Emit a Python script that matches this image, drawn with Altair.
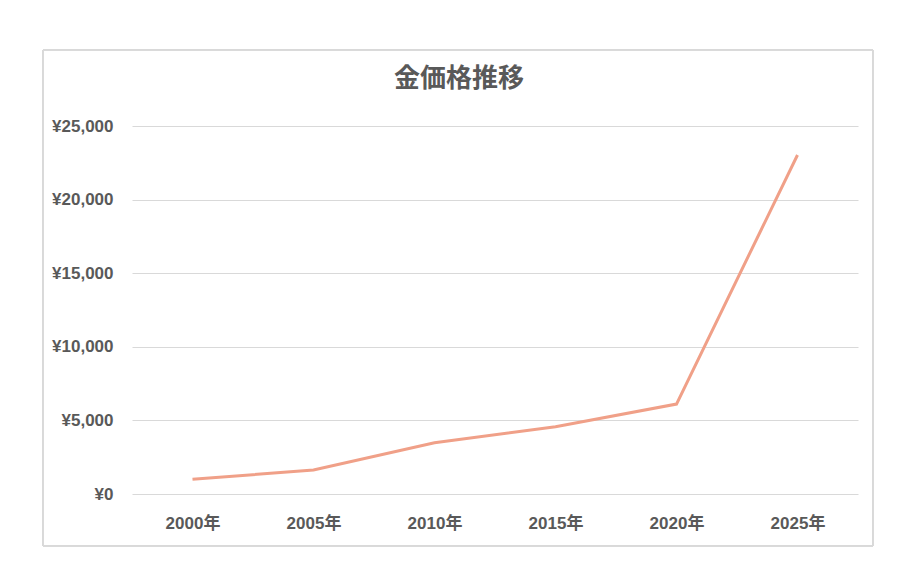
import altair as alt
import pandas as pd

years = ["2000年", "2005年", "2010年", "2015年", "2020年", "2025年"]
prices = [1000, 1630, 3480, 4570, 6110, 23030]
y_ticks = [0, 5000, 10000, 15000, 20000, 25000]
title_text = "金価格推移"

df = pd.DataFrame({"year": years, "price": prices})

LABEL_FONT = "'Liberation Sans', Arial, 'Noto Sans CJK JP', sans-serif"
TITLE_FONT = "'Noto Sans CJK JP', sans-serif"
GRAY = "#595959"

frame = alt.Chart(df).mark_rect(fillOpacity=0, stroke="#d9d9d9", strokeWidth=1).encode(
    x=alt.value(-89), x2=alt.value(741), y=alt.value(-76), y2=alt.value(420)
)

line = alt.Chart(df).mark_line(color="#F0A088", strokeWidth=3).encode(
    x=alt.X("year:O", sort=years, title=None,
            axis=alt.Axis(labelAngle=0, labelPadding=21, grid=False, domain=False, ticks=False,
                          labelFont=LABEL_FONT, labelFontSize=17, labelFontWeight="bold", labelColor=GRAY)),
    y=alt.Y("price:Q", title=None, scale=alt.Scale(domain=[0, 25000], nice=False),
            axis=alt.Axis(values=y_ticks, labelExpr="'¥' + format(datum.value, ',')",
                          labelPadding=19, domain=False, ticks=False, gridColor="#d9d9d9",
                          labelFont=LABEL_FONT, labelFontSize=17, labelFontWeight="bold", labelColor=GRAY)),
)

chart = alt.layer(frame, line).properties(
    width=726, height=368,
    autosize=alt.AutoSizeParams(type="none"),
    padding={"left": 124, "top": 118, "right": 30, "bottom": 70},
    title=alt.TitleParams(title_text, font=TITLE_FONT, fontSize=26, fontWeight="bold", color=GRAY,
                          anchor="middle", frame="group", dx=-36, offset=-68, baseline="bottom"),
).configure_view(stroke=None)

chart.save("out.html", embed_options={"renderer": "svg", "actions": False})
